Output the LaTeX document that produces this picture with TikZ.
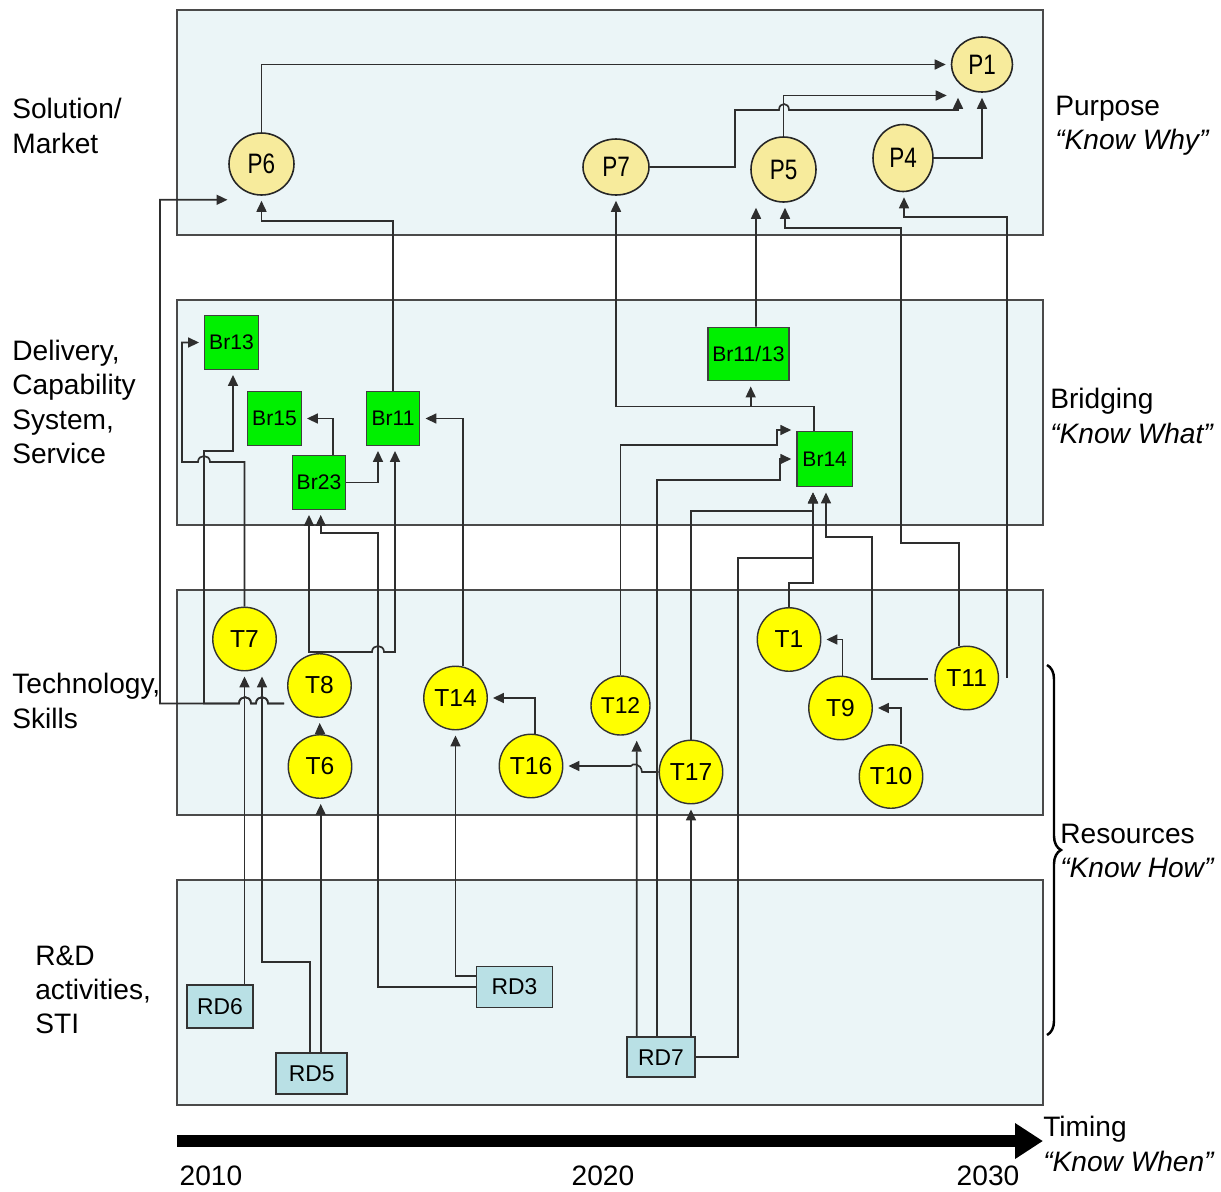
\documentclass[tikz,border=0pt]{standalone}
\usepackage{fontspec}
\setmainfont{Liberation Sans}
\newfontfamily\narrowsf[FakeStretch=0.8]{Liberation Sans}
\usepackage{tikz}
\usetikzlibrary{arrows.meta, positioning, calc, shapes.geometric, decorations.pathreplacing}
\definecolor{mLayer}{HTML}{EBF5F7}
\definecolor{mFrame}{HTML}{4A4A4A}
\definecolor{mPurp}{HTML}{F7EB9C}
\definecolor{mGreen}{HTML}{00F000}
\definecolor{mYellow}{HTML}{FFFF00}
\definecolor{mRD}{HTML}{B9E0E5}
\definecolor{mLink}{HTML}{2E2E2E}

\begin{document}
\begin{tikzpicture}[x=0.02cm, y=-0.02cm,
    layerbox/.style={draw=mFrame, line width=1.2pt, fill=mLayer},
    purp/.style={ellipse, draw=black!85, line width=0.9pt, fill=mPurp, inner sep=0pt, minimum width=1.3cm, minimum height=1.24cm, font=\narrowsf\fontsize{16}{18}\selectfont},
    brg/.style={draw=black!75, line width=0.8pt, fill=mGreen, inner sep=0pt, minimum size=1.07cm, font=\fontsize{12}{14}\selectfont},
    tech/.style={circle, draw=black!80, line width=0.8pt, fill=mYellow, inner sep=0pt, minimum size=1.27cm, font=\fontsize{14}{16}\selectfont},
    rd/.style={draw=black!80, line width=1pt, fill=mRD, inner sep=0pt, minimum height=0.82cm, font=\fontsize{13}{15}\selectfont},
    lbl/.style={anchor=west, align=left, inner sep=0pt, font=\fontsize{16}{19.5}\selectfont},
    yr/.style={inner sep=0pt, font=\fontsize{16}{19}\selectfont},
    arr/.style={draw=mLink, line width=0.95pt, -{Triangle[length=0.22cm, width=0.2cm]}, shorten >=0.1cm},
    timeline/.style={line width=0.24cm, -{Triangle[length=0.56cm, width=0.68cm]}}]
  \useasboundingbox (0,0) rectangle (1221,1191);

  % layers
  \draw[layerbox] (177,10) rectangle (1043,235);
  \draw[layerbox] (177,300) rectangle (1043,525);
  \draw[layerbox] (177,590) rectangle (1043,815);
  \draw[layerbox] (177,880) rectangle (1043,1105);

  % left and right labels
  \node[lbl] (lSol) at (12,126) {Solution/\\Market};
  \node[lbl] (lDel) at (12,402) {Delivery,\\Capability\\System,\\Service};
  \node[lbl] (lTec) at (12,701) {Technology,\\Skills};
  \node[lbl] (lRD) at (35,990) {R\&D\\activities,\\STI};
  \node[lbl] (rPur) at (1055,126) {Purpose\\{\itshape “Know Why”}};
  \node[lbl] (rBri) at (1050,416) {Bridging\\{\itshape “Know What”}};
  \node[lbl] (rRes) at (1060,851) {Resources\\{\itshape “Know How”}};
  \node[lbl] (rTim) at (1043,1144) {Timing\\{\itshape “Know When”}};

  % purpose
  \node[purp] (P6) at (261.5,164) {P6};
  \node[purp, minimum width=1.32cm, minimum height=1.12cm] (P7) at (616,167) {P7};
  \node[purp, minimum height=1.3cm] (P5) at (783.5,169.5) {P5};
  \node[purp, minimum width=1.2cm, minimum height=1.34cm] (P4) at (903,158) {P4};
  \node[purp, minimum width=1.22cm, minimum height=1.1cm] (P1) at (982,64.5) {P1};

  % bridging
  \node[brg] (Br13) at (231.5,342.5) {Br13};
  \node[brg] (Br15) at (274.5,418.5) {Br15};
  \node[brg] (Br11) at (393,418.5) {Br11};
  \node[brg] (Br23) at (319,482.5) {Br23};
  \node[brg, minimum width=1.62cm] (Br1113) at (748.5,354) {Br11/13};
  \node[brg, minimum size=1.11cm] (Br14) at (824.7,459) {Br14};

  % technology
  \node[tech] (T7) at (244.5,639) {T7};
  \node[tech] (T8) at (319.5,685.5) {T8};
  \node[tech] (T6) at (320,766.5) {T6};
  \node[tech] (T14) at (455.5,698) {T14};
  \node[tech] (T16) at (531,766) {T16};
  \node[tech, minimum size=1.18cm, font=\fontsize{13}{15}\selectfont] (T12) at (620.5,705.5) {T12};
  \node[tech] (T17) at (691,772) {T17};
  \node[tech] (T1) at (789,639.5) {T1};
  \node[tech] (T9) at (840.5,708) {T9};
  \node[tech] (T11) at (966.7,678) {T11};
  \node[tech] (T10) at (891,776.5) {T10};

  % r&d
  \node[rd, minimum width=1.32cm, minimum height=0.86cm] (RD6) at (220,1006.5) {RD6};
  \node[rd, minimum width=1.42cm] (RD5) at (311.7,1073.3) {RD5};
  \node[rd, minimum width=1.52cm] (RD3) at (514.5,987) {RD3};
  \node[rd, minimum width=1.36cm, minimum height=0.8cm] (RD7) at (661,1057.3) {RD7};

  % purpose links
  \draw[arr] (P6.north) |- (P1.west);
  \draw[arr] (P7.east) -| (735,110) -- (779,110) .. controls (779,102) and (789,102) .. (789,110) -| ($(P1.south)+(-24,0)$);
  \draw[arr] (P5.north) |- ($(P1.west)+(1,31)$);
  \draw[arr] (P4.east) -| (P1.south);
  \draw[arr] (Br11.north) |- ($(P6.south)+(0,25)$) -- (P6.south);
  \draw[arr] ($(Br1113.north)+(7.5,0)$) -- ($(P5.south)+(-27.5,0)$);
  \draw[arr] ($(Br14.north)+(-10.7,0)$) -- ++(0,-24) -| (P7.south);
  \draw[arr] ($(T11.north)+(-7.7,0)$) |- (901,543) |- ($(P5.south)+(1.5,25)$) -- ($(P5.south)+(1.5,0)$);
  \draw[arr] ($(T11.east)+(8,0)$) |- ($(P4.south)+(1,25)$) -- ($(P4.south)+(1,0)$);

  % left side links
  \coordinate (t8out) at ($(T8.west)+(-3,18)$);
  \draw[arr] (t8out) -- (268,703.5) .. controls (268,695) and (256,695) .. (256,703.5) -- (251,703.5) .. controls (251,695) and (239,695) .. (239,703.5) -- (160,703.5) |- ($(P6.south)+(-29,4)$);
  \draw[arr] (t8out) -- (268,703.5) .. controls (268,695) and (256,695) .. (256,703.5) -- (251,703.5) .. controls (251,695) and (239,695) .. (239,703.5) -- (204,703.5) -- (204,451) -| ($(Br13.south)+(1.5,0)$);
  \draw[arr] (T7.north) |- (210,462) .. controls (210,454) and (198,454) .. (198,462) -- (182,462) |- (Br13.west);
  \draw[arr] (T7.south |- RD6.north) -- (T7.south);
  \draw[arr] ($(RD5.north)+(-1.7,0)$) |- (262,962) -- ($(T7.south)+(17.5,0)$);
  \draw[arr] ($(RD5.north)+(9,0)$) -- ($(T6.south)+(0.7,0)$);
  \draw[arr] (T6.north) -- (T8.south);
  \draw[arr] (T8.north) |- (309,652) -- ($(Br23.south)+(-10,0)$);
  \draw[arr] (T8.north) |- (372,652) .. controls (372,644) and (384,644) .. (384,652) -| ($(Br11.south)+(2,0)$);
  \draw[arr] (RD3.west) -| (378,533) -| ($(Br23.south)+(1.7,0)$);
  \draw[arr] ($(RD3.west)+(0,-11)$) -| (T14.south);
  \draw[arr] ($(Br23.north)+(14,0)$) |- (Br15.east);
  \draw[arr] (Br23.east) -| ($(Br11.south)+(-15,0)$);
  \draw[arr] ($(T14.north)+(7.8,0)$) |- (Br11.east);
  \draw[arr] ($(T16.north)+(4,0)$) |- (T14.east);
  \draw[arr] (T17.west) -- (642,772) .. controls (641,763) and (632,763) .. (631,766) -- (T16.east);

  % right side links
  \draw[arr] ($(RD7.north)+(-24.3,0)$) -- ($(T12.south)+(16.2,0)$);
  \draw[arr] ($(RD7.north)+(-4.3,0)$) |- (780,480) |- (Br14.west);
  \draw[arr] (T12.north) |- (777,445) |- ($(Br14.west)+(0,-29)$);
  \draw[arr] (T17.south |- RD7.north) -- (T17.south);
  \draw[arr] (T17.north) |- (813,511) -- ($(Br14.south)+(-11.7,0)$);
  \draw[arr] (RD7.east) -| (738,558) -| ($(Br14.south)+(-11.7,0)$);
  \draw[arr] (T1.north) |- (813,583) -- ($(Br14.south)+(-11.7,0)$);
  \draw[arr] ($(T11.west)+(-6,1)$) -| (872,537) -| ($(Br14.south)+(1.3,0)$);
  \draw[arr] ($(T9.north)+(2,0)$) |- (T1.east);
  \draw[arr] ($(T10.north)+(10,0)$) |- (T9.east);
  \draw[arr] ($(Br14.north)+(-10.7,0)$) -- ++(0,-24) -| ($(Br1113.south)+(2.2,0)$);

  % resources brace
  \coordinate (brTop) at (1047,665);
  \coordinate (brBot) at (1047,1035);
  \draw[line width=1.4pt, decorate, decoration={brace, amplitude=0.28cm}] (brTop) -- (brBot);

  % timing
  \coordinate (tl0) at (177,1141);
  \coordinate (tl1) at (1043,1141);
  \draw[timeline] (tl0) -- (tl1);
  \node[yr] (y2010) at (211,1176) {2010};
  \node[yr] (y2020) at (603,1176) {2020};
  \node[yr] (y2030) at (988,1176) {2030};
\end{tikzpicture}
\end{document}
